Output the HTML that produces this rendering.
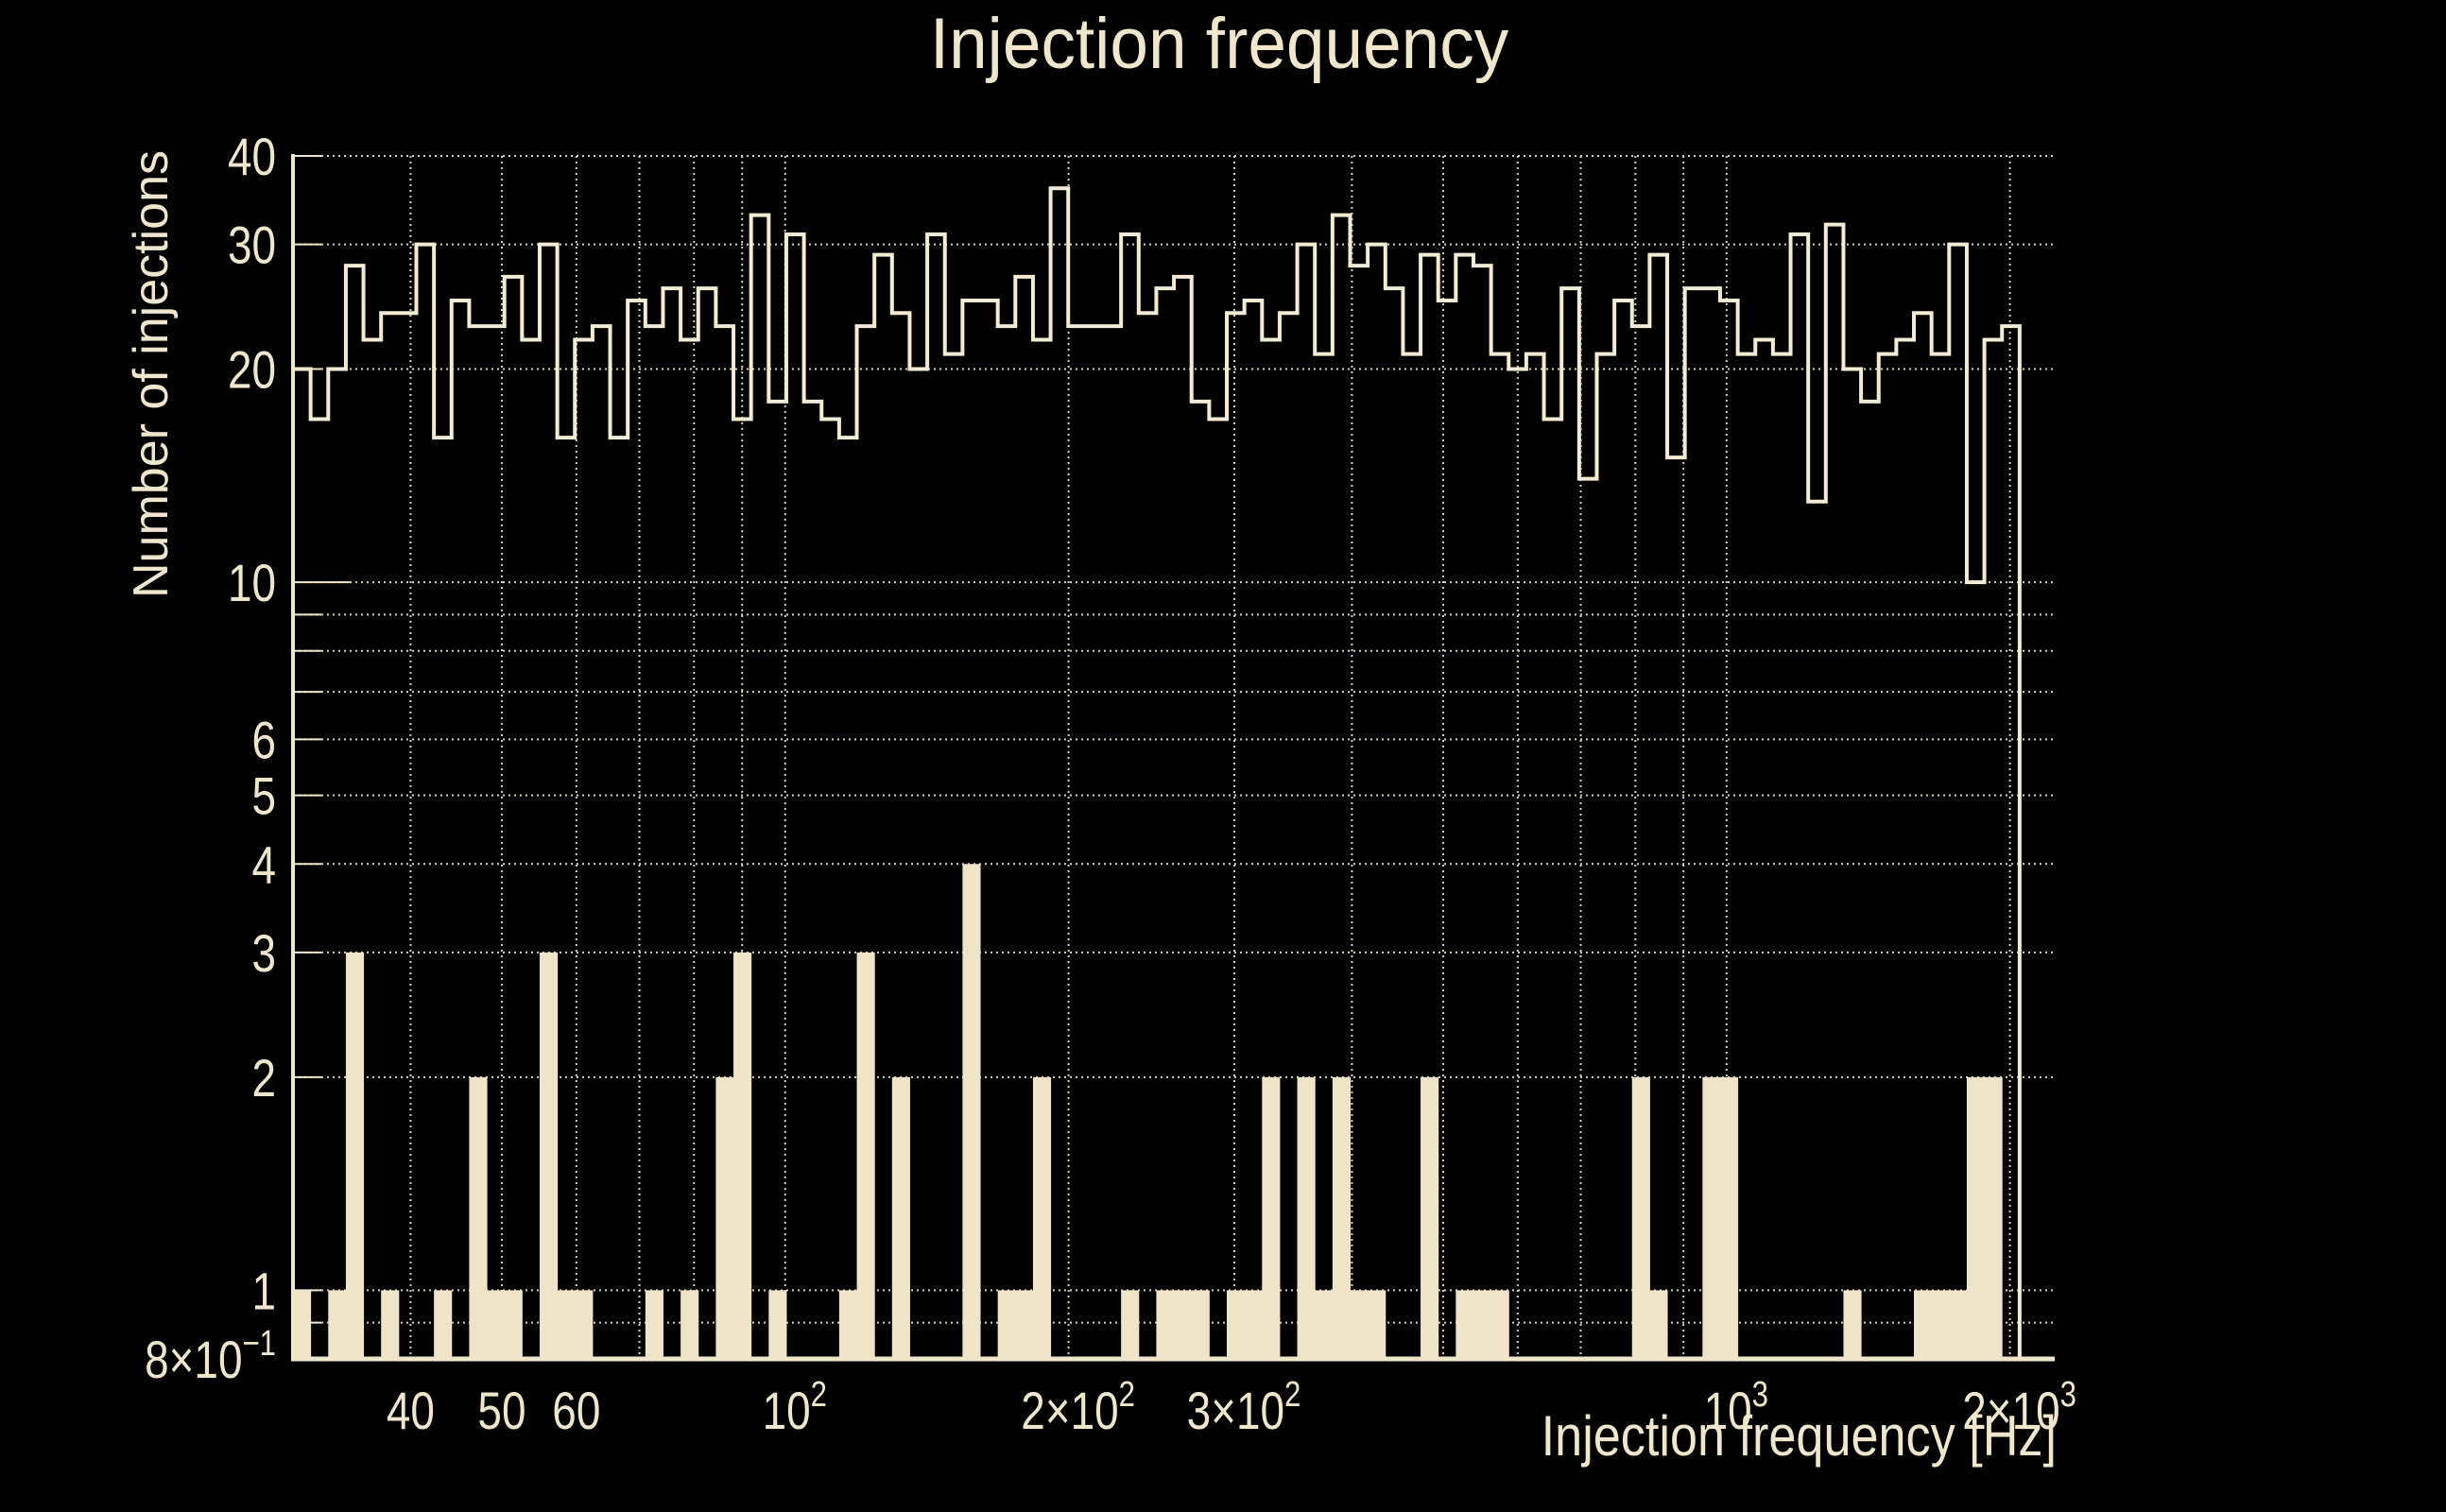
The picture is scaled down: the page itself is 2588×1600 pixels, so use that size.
<!DOCTYPE html>
<html><head><meta charset="utf-8"><title>Injection frequency</title>
<style>
html,body{margin:0;padding:0;background:#000;}
svg{display:block;}
text{font-family:"Liberation Sans",sans-serif;fill:#efe6cb;}
</style></head>
<body>
<svg id="chart" width="2588" height="1600" viewBox="0 0 2588 1600" xmlns="http://www.w3.org/2000/svg">
<rect width="2588" height="1600" fill="#000"/>
<g id="grid"></g>
<g id="bars"></g>
<g id="outline"></g>
<g id="axes"></g>
<text x="1290" y="72" font-size="76" text-anchor="middle" transform="translate(1290,0) scale(0.96,1) translate(-1290,0)">Injection frequency</text>
<text x="0" y="0" font-size="52" text-anchor="middle" transform="translate(177,396) rotate(-90)">Number of injections</text>
<text x="2176" y="1540" font-size="60" text-anchor="end" transform="translate(2176,0) scale(0.87,1) translate(-2176,0)">Injection frequency [Hz]</text>
</svg>
<script>
const binCountsAll = [20,17,20,28,22,24,24,30,16,25,23,23,27,22,30,16,22,23,16,25,23,26,22,26,23,17,33,18,31,18,17,16,23,29,24,20,31,21,25,25,23,27,22,36,23,23,23,31,24,26,27,18,17,24,25,22,24,30,21,33,28,30,26,21,29,25,29,28,21,20,21,17,26,14,21,25,23,29,15,26,26,25,21,22,21,31,13,32,20,18,21,22,24,21,30,10,22,23];
const binCountsSel = [1,0,1,3,0,1,0,0,1,0,2,1,1,0,3,1,1,0,0,0,1,0,1,0,2,3,0,1,0,0,0,1,3,0,2,0,0,0,4,0,1,1,2,0,0,0,0,1,0,1,1,1,0,1,1,2,0,2,1,2,1,1,0,0,2,0,1,1,1,0,0,0,0,0,0,0,2,1,0,0,2,2,0,0,0,0,0,0,1,0,0,0,1,1,1,2,2,0];
const histRange = [30, 2048];
const yTickValues = [40,30,20,10,6,5,4,3,2,1,0.8];
const yTickLabels = ["40","30","20","10","6","5","4","3","2","1","8×10|−1"];
const yGridValues = [40,30,20,10,9,8,7,6,5,4,3,2,1,0.9];
const xGridValues = [40,50,60,70,80,90,100,200,300,400,500,600,700,800,900,1000,2000];
const xTickValues = [40,50,60,100,200,300,1000,2000];
const xTickLabels = ["40","50","60","10|2","2×10|2","3×10|2","10|3","2×10|3"];

const NS="http://www.w3.org/2000/svg";
const X0=310, X1=2174, Y0=165, Y1=1438;
const XMIN=30, DX=996;
const YMIN=0.8, YMAX=40;
function px(v){return X0+(Math.log10(v)-Math.log10(XMIN))*DX;}
function py(v){return Y1-(Math.log10(v)-Math.log10(YMIN))/(Math.log10(YMAX)-Math.log10(YMIN))*(Y1-Y0);}
const C="#efe5c9";
function mk(tag,attrs,parent){const e=document.createElementNS(NS,tag);for(const k in attrs)e.setAttribute(k,attrs[k]);parent.appendChild(e);return e;}

const grid=document.getElementById('grid');
yGridValues.forEach(v=>{
  const l=mk('line',{x1:X0,x2:X1,y1:py(v),y2:py(v),stroke:"#d8d0b8","stroke-width":2,"stroke-dasharray":"2 4"},grid);
  
  
});
xGridValues.forEach(v=>{
  const l=mk('line',{x1:px(v),x2:px(v),y1:Y0,y2:Y1,stroke:"#d8d0b8","stroke-width":2,"stroke-dasharray":"2 4"},grid);
  
  
});

const n=binCountsAll.length;
const la=Math.log10(histRange[0]), lb=Math.log10(histRange[1]);
const edges=[];for(let i=0;i<=n;i++)edges.push(Math.pow(10,la+(lb-la)*i/n));

const bars=document.getElementById('bars');
binCountsSel.forEach((v,i)=>{
  if(v<=0)return;
  const x=px(edges[i]), w=px(edges[i+1])-x, y=py(v);
  const r=mk('rect',{x:x,y:y,width:w+0.5,height:Y1-y,fill:"#efe4c8"},bars);
  
  
});

const outline=document.getElementById('outline');
let d="M"+px(edges[0])+","+py(binCountsAll[0]);
binCountsAll.forEach((v,i)=>{
  d+=" L"+px(edges[i])+","+py(v)+" L"+px(edges[i+1])+","+py(v);
});
d+=" L"+px(edges[n])+","+Y1;
const p=mk('path',{d:d,fill:"none",stroke:"#f3ebd2","stroke-width":4,"stroke-linejoin":"miter"},outline);



const axes=document.getElementById('axes');
const ya=mk('line',{x1:X0,x2:X0,y1:Y0-2,y2:Y1+2,stroke:C,"stroke-width":4},axes);


const xa=mk('line',{x1:X0-2,x2:X1,y1:Y1,y2:Y1,stroke:C,"stroke-width":5},axes);


yGridValues.forEach(v=>{
  const t=mk('line',{x1:X0,x2:X0+(v===10?60:30),y1:py(v),y2:py(v),stroke:C,"stroke-width":2},axes);
  
  
});

function labelText(str,x,y,anchor,parent){
  const parts=str.split('|');
  const t=mk('text',{x:x,y:y,"font-size":56,"text-anchor":anchor,transform:`translate(${x},0) scale(0.82,1) translate(${-x},0)`},parent);
  t.appendChild(document.createTextNode(parts[0]));
  if(parts[1]){const s=mk('tspan',{dy:-24,"font-size":38},t);s.textContent=parts[1];}
  return t;
}
yTickValues.forEach((v,i)=>{
  const t=labelText(yTickLabels[i],292,py(v)+20,"end",axes);
  
  
});
xTickValues.forEach((v,i)=>{
  const lab=xTickLabels[i];
  const t=labelText(lab,px(v)+(lab.indexOf('|')>=0?10:0),1512,"middle",axes);
  
  
});
</script>
</body></html>
